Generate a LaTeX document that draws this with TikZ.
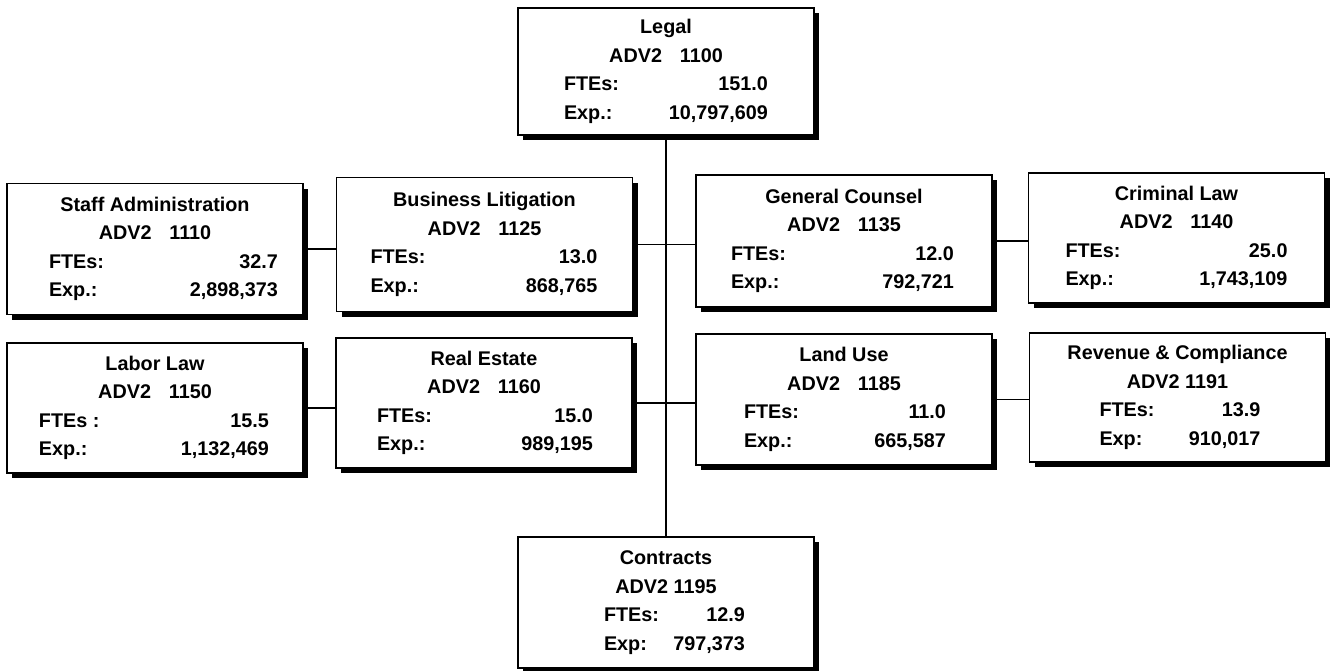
\documentclass[tikz,border=0pt]{standalone}
\usepackage{fontspec}
\setmainfont{Liberation Sans}
\usetikzlibrary{shadows}
\newlength\orgw
\setlength\orgw{296pt}
% #1 title, #2 code, #3 left inset, #4 right inset, #5 FTE label, #6 FTE value, #7 Exp label, #8 Exp value
\newcommand\orgtext[8]{\parbox{\orgw}{\centering\fontsize{19.8}{28.5}\selectfont\bfseries
#1\\#2\\\makebox[\orgw]{\hspace{#3}#5\hfill#6\hspace{#4}}\\\makebox[\orgw]{\hspace{#3}#7\hfill#8\hspace{#4}}}}
\tikzset{
  orgbox/.style={draw, line width=1.8pt, fill=white, inner sep=0pt,
    minimum width=\orgw, minimum height=131pt,
    drop shadow={shadow xshift=5pt, shadow yshift=-5pt, fill=black, opacity=1}},
  link/.style={line width=1.4pt}
}
\begin{document}
\begin{tikzpicture}[x=1pt,y=-1pt]
\useasboundingbox (0,0) rectangle (1330,670);
\node[orgbox, minimum height=127pt] (legal) at (666,71.5)
  {\orgtext{Legal}{ADV2\hspace{0.9em}1100}{46pt}{46pt}{FTEs:}{151.0}{Exp.:}{10,797,609}};
\node[orgbox] (staff) at (155,249)
  {\orgtext{Staff Administration}{ADV2\hspace{0.9em}1110}{42pt}{25pt}{FTEs:}{32.7}{Exp.:}{2,898,373}};
\node[orgbox, minimum height=134pt] (bl) at (484.5,244.5)
  {\orgtext{Business Litigation}{ADV2\hspace{0.9em}1125}{34pt}{35pt}{FTEs:}{13.0}{Exp.:}{868,765}};
\node[orgbox, minimum height=132pt] (gc) at (844,241)
  {\orgtext{General Counsel}{ADV2\hspace{0.9em}1135}{35pt}{38pt}{FTEs:}{12.0}{Exp.:}{792,721}};
\node[orgbox, minimum height=130pt] (cl) at (1176.5,238)
  {\orgtext{Criminal Law}{ADV2\hspace{0.9em}1140}{37pt}{37pt}{FTEs:}{25.0}{Exp.:}{1,743,109}};
\node[orgbox, minimum height=130pt] (labor) at (155,408)
  {\orgtext{Labor Law}{ADV2\hspace{0.9em}1150}{32pt}{34pt}{FTEs :}{15.5}{Exp.:}{1,132,469}};
\node[orgbox, minimum height=130pt] (re) at (484,403)
  {\orgtext{Real Estate}{ADV2\hspace{0.9em}1160}{41pt}{39pt}{FTEs:}{15.0}{Exp.:}{989,195}};
\node[orgbox, minimum height=131pt] (lu) at (844,399.5)
  {\orgtext{Land Use}{ADV2\hspace{0.9em}1185}{48pt}{46pt}{FTEs:}{11.0}{Exp.:}{665,587}};
\node[orgbox, minimum height=129pt] (rc) at (1177.5,397.5)
  {\orgtext{Revenue \& Compliance}{ADV2 1191}{70pt}{65pt}{FTEs:}{13.9}{Exp:}{910,017}};
\node[orgbox, minimum height=131pt] (contracts) at (666,602.5)
  {\orgtext{Contracts}{ADV2 1195}{86pt}{69pt}{FTEs:}{12.9}{Exp:}{797,373}};
\draw[link] (legal.south) -- (contracts.north);
\draw[link] (staff.east) -- (staff.east -| bl.west);
\draw[link] (bl.east) -- (bl.east -| gc.west);
\draw[link] (gc.east) -- (gc.east -| cl.west);
\draw[link] (labor.east) -- (labor.east -| re.west);
\draw[link] (re.east) -- (re.east -| lu.west);
\draw[link] (lu.east) -- (lu.east -| rc.west);
\end{tikzpicture}
\end{document}
